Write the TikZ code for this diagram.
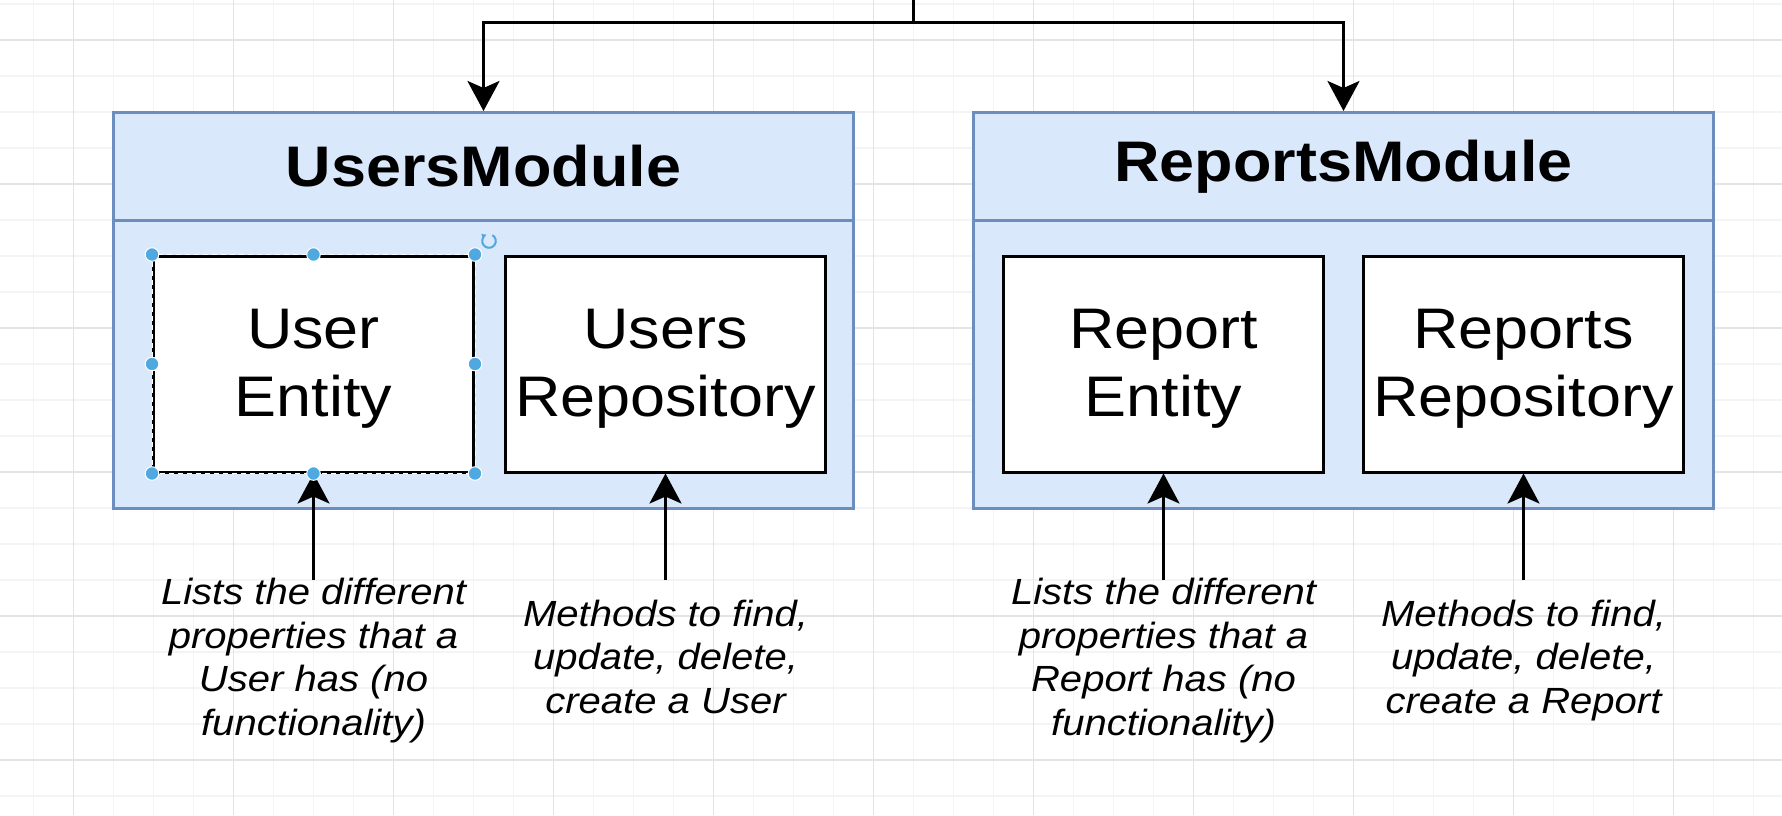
\documentclass[tikz,border=0pt]{standalone}
\usepackage{fontspec}
\setmainfont{Liberation Sans}[FakeStretch=1.1]
\usetikzlibrary{arrows.meta}
\definecolor{modfill}{HTML}{DAE8FC}
\definecolor{modline}{HTML}{6C8EBF}
\definecolor{gridminor}{HTML}{F4F4F4}
\definecolor{gridmajor}{HTML}{E4E4E4}
\definecolor{handlecol}{HTML}{4FA9E0}
\newcommand{\twolines}[2]{\rule{0pt}{28.4pt}#1\\#2\rule[-10.2pt]{0pt}{10.2pt}}
\begin{document}
\begin{tikzpicture}[x=0.5pt,y=-0.5pt,
  conn/.style={line width=1.5pt,-{Stealth[length=15pt,width=16pt,inset=3.5pt]}},
  modbox/.style={draw=modline,fill=modfill,line width=1.5pt,minimum width=370pt,minimum height=197.75pt,inner sep=0pt},
  modhead/.style={draw=modline,fill=modfill,line width=1.5pt,minimum width=370pt,minimum height=53.75pt,inner sep=0pt,
    font=\fontsize{28.6}{34}\selectfont\bfseries},
  inbox/.style={draw=black,fill=white,line width=1.5pt,minimum width=160pt,minimum height=108pt,inner sep=0pt,
    align=center,font=\fontsize{28.6}{34.15}\selectfont},
  note/.style={align=center,inner sep=0pt,font=\fontsize{18.2}{21.7}\selectfont\itshape},
  hdl/.style={fill=handlecol,draw=white,line width=0.5pt}
]
\useasboundingbox (0,0) rectangle (1782,815);
\fill[white] (0,0) rectangle (1782,815);
% grid
\foreach \x in {33.5,113.5,153.5,193.5,273.5,313.5,353.5,433.5,473.5,513.5,593.5,633.5,673.5,753.5,793.5,833.5,913.5,953.5,993.5,1073.5,1113.5,1153.5,1233.5,1273.5,1313.5,1393.5,1433.5,1473.5,1553.5,1593.5,1633.5,1713.5,1753.5}
  \draw[gridminor,line width=0.6pt] (\x,0) -- (\x,815);
\foreach \y in {4,76,112,148,220,256,292,364,400,436,508,544,580,652,688,724,796}
  \draw[gridminor,line width=0.6pt] (0,\y) -- (1782,\y);
\foreach \x in {73.5,233.5,393.5,553.5,713.5,873.5,1033.5,1193.5,1353.5,1513.5,1673.5}
  \draw[gridmajor,line width=0.6pt] (\x,0) -- (\x,815);
\foreach \y in {40,184,328,472,616,760}
  \draw[gridmajor,line width=0.6pt] (0,\y) -- (1782,\y);

% modules
\node[modbox] (umod) at (483.5,310.25) {};
\node[modhead] (uhead) at (483.5,166.25) {UsersModule};
\node[modbox] (rmod) at (1343.5,310.25) {};
\node[modhead] (rhead) at (1343.5,166.25) {ReportsModule};

% inner boxes
\node[inbox] (ue) at (313.5,364) {\twolines{User}{Entity}};
\node[inbox] (ur) at (665.5,364) {\twolines{Users}{Repository}};
\node[inbox] (re) at (1163.5,364) {\twolines{Report}{Entity}};
\node[inbox] (rr) at (1523.5,364) {\twolines{Reports}{Repository}};

% top connector
\coordinate (src) at (913.5,-2);
\coordinate (junc) at (913.5,22);
\draw[line width=1.5pt] (src) -- (junc);
\draw[conn] (junc) -| (uhead.north);
\draw[conn] (junc) -| (rhead.north);

% notes
\node[note] (n1) at (313.5,661.3) {\strut Lists the different\\properties that a\\User has (no\\functionality)\strut};
\node[note] (n2) at (665.5,661.3) {\strut Methods to find,\\update, delete,\\create a User\strut};
\node[note] (n3) at (1163.5,661.3) {\strut Lists the different\\properties that a\\Report has (no\\functionality)\strut};
\node[note] (n4) at (1523.5,661.3) {\strut Methods to find,\\update, delete,\\create a Report\strut};

\coordinate (p1) at (313.5,580);
\coordinate (p2) at (665.5,580);
\coordinate (p3) at (1163.5,580);
\coordinate (p4) at (1523.5,580);
\draw[conn] (p1) -- (ue.south);
\draw[conn] (p2) -- (ur.south);
\draw[conn] (p3) -- (re.south);
\draw[conn] (p4) -- (rr.south);

% selection state on User Entity
\draw[white,line width=0.5pt,dash pattern=on 2.5pt off 2pt] (ue.south west) rectangle (ue.north east);
\foreach \a in {north west,north,north east,west,east,south west,south,south east}
  \path[hdl] (ue.\a) circle[radius=3.4pt];
\draw[handlecol,line width=1pt,-{Latex[length=2.4pt,width=2.8pt]}] (489,241) ++(60:3.4pt) arc[start angle=60,end angle=-250,radius=3.4pt];
\end{tikzpicture}
\end{document}
